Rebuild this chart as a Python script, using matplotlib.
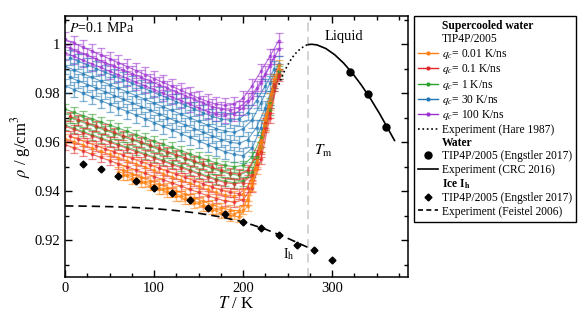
import numpy as np
import matplotlib.pyplot as plt
from matplotlib.lines import Line2D

plt.rcParams['font.family'] = ['Liberation Serif', 'DejaVu Serif']
plt.rcParams['mathtext.fontset'] = 'stix'

# --- supercooled water, TIP4P/2005, runs sampled every 10 K from a start temperature
rates = ['0.01', '0.1', '1', '30', '100']
colors = ['#ff7f0e', '#e3262a', '#2ca02c', '#1f77b4', '#9b30d0']
errs = [0.002, 0.002, 0.002, 0.003, 0.003]

q001_starts = [0, 65, 60, 65]
q001_runs = [
    [0.9615, 0.9602, 0.9589, 0.9576, 0.9563, 0.9550, 0.9537, 0.9524, 0.9511, 0.9498, 0.9485, 0.9472, 0.9459,
     0.9446, 0.9433, 0.9420, 0.9407, 0.9395, 0.9385, 0.9380, 0.9390, 0.9450, 0.9580, 0.9750, 0.9900],
    [0.9485, 0.9471, 0.9457, 0.9443, 0.9429, 0.9415, 0.9401, 0.9387, 0.9373, 0.9359, 0.9345, 0.9333, 0.9323,
     0.9320, 0.9365, 0.9520, 0.9700, 0.9860],
    [0.9480, 0.9466, 0.9452, 0.9438, 0.9424, 0.9410, 0.9396, 0.9382, 0.9368, 0.9354, 0.9340, 0.9327, 0.9315,
     0.9305, 0.9325, 0.9420, 0.9600, 0.9780, 0.9915],
    [0.9465, 0.9451, 0.9437, 0.9423, 0.9409, 0.9395, 0.9381, 0.9367, 0.9353, 0.9339, 0.9325, 0.9312, 0.9300,
     0.9295, 0.9340, 0.9490, 0.9670, 0.9850],
]
q01_starts = [5, 0, 5, 0]
q01_runs = [
    [0.9705, 0.9692, 0.9679, 0.9666, 0.9653, 0.9640, 0.9627, 0.9614, 0.9601, 0.9588, 0.9575, 0.9562, 0.9549,
     0.9536, 0.9523, 0.9510, 0.9497, 0.9485, 0.9475, 0.9470, 0.9485, 0.9550, 0.9680, 0.9840],
    [0.9665, 0.9652, 0.9639, 0.9626, 0.9613, 0.9600, 0.9587, 0.9574, 0.9561, 0.9548, 0.9535, 0.9522, 0.9509,
     0.9496, 0.9483, 0.9470, 0.9457, 0.9445, 0.9435, 0.9430, 0.9435, 0.9465, 0.9560, 0.9720, 0.9880],
    [0.9625, 0.9612, 0.9599, 0.9586, 0.9573, 0.9560, 0.9547, 0.9534, 0.9521, 0.9508, 0.9495, 0.9482, 0.9469,
     0.9456, 0.9443, 0.9430, 0.9417, 0.9405, 0.9395, 0.9390, 0.9415, 0.9510, 0.9660, 0.9830],
    [0.9590, 0.9577, 0.9564, 0.9551, 0.9538, 0.9525, 0.9512, 0.9499, 0.9486, 0.9473, 0.9460, 0.9447, 0.9434,
     0.9421, 0.9408, 0.9395, 0.9382, 0.9370, 0.9360, 0.9355, 0.9365, 0.9415, 0.9530, 0.9700, 0.9870],
]
q1_starts = [0, 5, 0]
q1_runs = [
    [0.9735, 0.9722, 0.9709, 0.9696, 0.9683, 0.9670, 0.9657, 0.9644, 0.9631, 0.9618, 0.9605, 0.9592, 0.9579,
     0.9566, 0.9553, 0.9540, 0.9527, 0.9515, 0.9505, 0.9500, 0.9505, 0.9540, 0.9620, 0.9760, 0.9890],
    [0.9700, 0.9687, 0.9674, 0.9661, 0.9648, 0.9635, 0.9622, 0.9609, 0.9596, 0.9583, 0.9570, 0.9557, 0.9544,
     0.9531, 0.9518, 0.9505, 0.9492, 0.9480, 0.9470, 0.9465, 0.9480, 0.9540, 0.9670, 0.9830],
    [0.9670, 0.9657, 0.9644, 0.9631, 0.9618, 0.9605, 0.9592, 0.9579, 0.9566, 0.9553, 0.9540, 0.9527, 0.9514,
     0.9501, 0.9488, 0.9475, 0.9462, 0.9450, 0.9440, 0.9435, 0.9440, 0.9480, 0.9580, 0.9730, 0.9880],
]
q30_starts = [5, 0, 5, 0]
q30_runs = [
    [0.9945, 0.9930, 0.9915, 0.9900, 0.9885, 0.9870, 0.9855, 0.9840, 0.9825, 0.9810, 0.9795, 0.9780, 0.9765,
     0.9750, 0.9735, 0.9720, 0.9705, 0.9695, 0.9690, 0.9695, 0.9720, 0.9770, 0.9830, 0.9900],
    [0.9910, 0.9895, 0.9880, 0.9865, 0.9850, 0.9835, 0.9820, 0.9805, 0.9790, 0.9775, 0.9760, 0.9745, 0.9730,
     0.9715, 0.9700, 0.9685, 0.9670, 0.9655, 0.9645, 0.9640, 0.9655, 0.9690, 0.9760, 0.9840, 0.9920],
    [0.9865, 0.9850, 0.9835, 0.9820, 0.9805, 0.9790, 0.9775, 0.9760, 0.9745, 0.9730, 0.9715, 0.9700, 0.9685,
     0.9670, 0.9655, 0.9640, 0.9625, 0.9610, 0.9600, 0.9595, 0.9610, 0.9660, 0.9740, 0.9850],
    [0.9830, 0.9815, 0.9800, 0.9785, 0.9770, 0.9755, 0.9740, 0.9725, 0.9710, 0.9695, 0.9680, 0.9665, 0.9650,
     0.9635, 0.9620, 0.9605, 0.9590, 0.9575, 0.9560, 0.9550, 0.9545, 0.9575, 0.9660, 0.9780, 0.9890],
]
q100_starts = [0, 5, 0]
q100_runs = [
    [1.0020, 1.0004, 0.9988, 0.9972, 0.9956, 0.9940, 0.9924, 0.9908, 0.9892, 0.9876, 0.9860, 0.9844, 0.9828,
     0.9812, 0.9796, 0.9780, 0.9766, 0.9755, 0.9750, 0.9755, 0.9780, 0.9830, 0.9890, 0.9950, 1.0015],
    [0.9985, 0.9970, 0.9955, 0.9940, 0.9925, 0.9910, 0.9895, 0.9880, 0.9865, 0.9850, 0.9835, 0.9820, 0.9805,
     0.9790, 0.9775, 0.9760, 0.9745, 0.9735, 0.9730, 0.9740, 0.9770, 0.9820, 0.9880, 0.9950],
    [0.9965, 0.9950, 0.9935, 0.9920, 0.9905, 0.9890, 0.9875, 0.9860, 0.9845, 0.9830, 0.9815, 0.9800, 0.9785,
     0.9770, 0.9755, 0.9740, 0.9725, 0.9715, 0.9710, 0.9715, 0.9740, 0.9780, 0.9840, 0.9910, 0.9980],
]

# --- experiments / reference data
hare_T = [240, 245, 250, 255, 260, 265, 270, 273.15]
hare_rho = [0.9835, 0.9880, 0.9915, 0.9945, 0.9967, 0.9983, 0.9995, 0.9998]
crc_T = [273.15, 277, 283, 293, 303, 313, 323, 333, 343, 353, 363, 370]
crc_rho = [0.99984, 0.99997, 0.99970, 0.99821, 0.99565, 0.99222, 0.98804, 0.98320, 0.97777, 0.97180,
           0.96532, 0.96070]
water_T = [320, 340, 360]
water_rho = [0.9886, 0.9797, 0.9663]
ice_T = [20, 40, 60, 80, 100, 120, 140, 160, 180, 200, 220, 240, 260, 280, 300]
ice_rho = [0.9512, 0.9492, 0.9464, 0.9441, 0.9413, 0.9393, 0.9363, 0.9332, 0.9309, 0.9273, 0.9250,
           0.9221, 0.9180, 0.9162, 0.9120]
feistel_T = [0, 25, 50, 75, 100, 125, 150, 175, 200, 225, 250, 273.15]
feistel_rho = [0.9340, 0.9339, 0.9337, 0.9334, 0.9329, 0.9321, 0.9310, 0.9295, 0.9275, 0.9245, 0.9208, 0.9170]
T_melt = 273.15

all_starts = [q001_starts, q01_starts, q1_starts, q30_starts, q100_starts]
all_runs = [q001_runs, q01_runs, q1_runs, q30_runs, q100_runs]

fig = plt.figure(figsize=(5.81, 3.27), dpi=100)
ax = fig.add_axes([0.112, 0.153, 0.590, 0.798])

# fastest cooling first, slowest on top
for k in [4, 3, 2, 1, 0]:
    for t0, vals in zip(all_starts[k], all_runs[k]):
        T = t0 + 10 * np.arange(len(vals))
        ax.errorbar(T, vals, yerr=errs[k], color=colors[k], ecolor=colors[k], fmt='o', ms=1.8,
                    elinewidth=1.0, capsize=3.2, capthick=0.9, alpha=0.55, zorder=2)
        ax.plot(T, vals, '-', color=colors[k], lw=0.8, alpha=0.7, zorder=2)

ax.axvline(T_melt, color='#d0d0d0', ls='--', lw=1.3, dashes=(5, 3), zorder=1)
ax.plot(hare_T, hare_rho, ':', color='k', lw=1.2, zorder=3)
ax.plot(crc_T, crc_rho, '-', color='k', lw=1.2, zorder=3)
ax.plot(water_T, water_rho, 'o', color='k', ms=5, zorder=4)
ax.plot(ice_T, ice_rho, 'D', color='k', ms=3.5, zorder=4)
ax.plot(feistel_T, feistel_rho, '--', color='k', lw=1.2, dashes=(5, 3), zorder=3)

ax.text(4, 1.0065, '$P$=0.1 MPa', fontsize=10, va='center', ha='left')
ax.text(291, 1.0032, 'Liquid', fontsize=10.5, va='center', ha='left')
ax.text(280, 0.9565, r'$T_{\rm m}$', fontsize=11, va='center', ha='left')
ax.text(245, 0.9145, r'I$_{\rm h}$', fontsize=10, va='center', ha='left')

ax.set_xlim(0, 385)
ax.set_ylim(0.905, 1.0115)
ax.set_xticks([0, 100, 200, 300])
ax.set_xticks(np.arange(0, 386, 25), minor=True)
ax.set_yticks([0.92, 0.94, 0.96, 0.98, 1.0])
ax.set_yticklabels(['0.92', '0.94', '0.96', '0.98', '1'])
ax.set_yticks(np.arange(0.91, 1.011, 0.01), minor=True)
ax.tick_params(which='both', direction='in', top=True, right=True, labelsize=10.5, width=1)
ax.tick_params(which='major', length=5)
ax.tick_params(which='minor', length=3)
for s in ax.spines.values():
    s.set_linewidth(1.1)
ax.set_xlabel('$T$ / K', fontsize=12, labelpad=1)
ax.set_ylabel(r'$\rho$ / g/cm$^3$', fontsize=12, labelpad=1)

# legend with section headers
blank = Line2D([], [], ls='none', marker='none')
handles = [blank, blank]
labels = ['Supercooled water', 'TIP4P/2005']
for k in range(5):
    handles.append(Line2D([], [], color=colors[k], lw=1, marker='o', ms=2))
    labels.append('$q_c$= %s K/ns' % rates[k])
handles += [Line2D([], [], color='k', ls=':', lw=1.2), blank,
            Line2D([], [], color='k', ls='none', marker='o', ms=5),
            Line2D([], [], color='k', lw=1.2), blank,
            Line2D([], [], color='k', ls='none', marker='D', ms=3.5),
            Line2D([], [], color='k', ls='--', lw=1.2, dashes=(3, 2))]
labels += ['Experiment (Hare 1987)', 'Water', 'TIP4P/2005 (Engstler 2017)', 'Experiment (CRC 2016)',
           r'Ice I$_{\mathbf{h}}$', 'TIP4P/2005 (Engstler 2017)', 'Experiment (Feistel 2006)']
leg = fig.legend(handles, labels, loc='upper left', bbox_to_anchor=(414 / 581, 1 - 16 / 327),
                 fontsize=8.3, frameon=True, fancybox=False, edgecolor='k', framealpha=1,
                 borderaxespad=0, labelspacing=0.12, handlelength=1.7, handletextpad=0.4,
                 borderpad=0.35, numpoints=1)
leg.get_frame().set_linewidth(1.0)
for i in [0, 8, 11]:
    leg.get_texts()[i].set_fontweight('bold')

fig.savefig('out.png', dpi=100)
